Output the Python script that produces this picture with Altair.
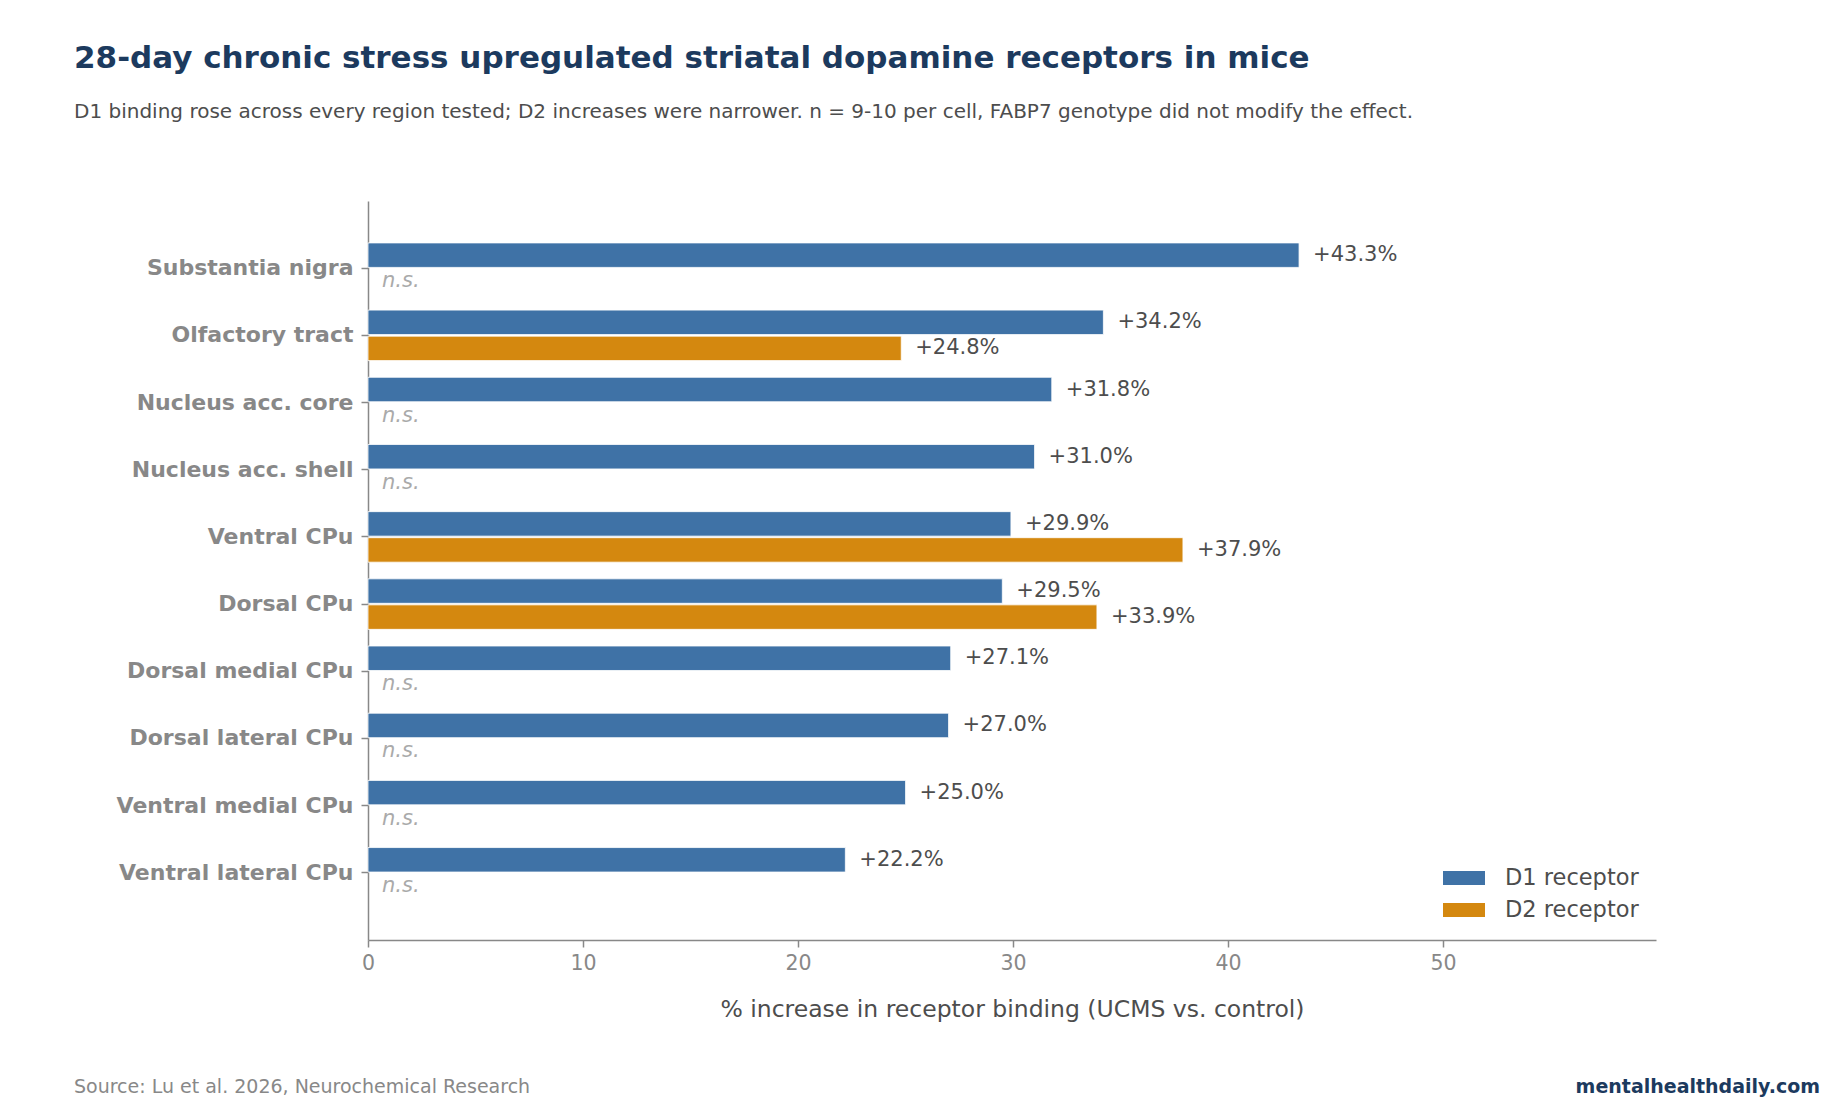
import altair as alt
import pandas as pd

# Regions, top to bottom
regions = [
    "Substantia nigra",
    "Olfactory tract",
    "Nucleus acc. core",
    "Nucleus acc. shell",
    "Ventral CPu",
    "Dorsal CPu",
    "Dorsal medial CPu",
    "Dorsal lateral CPu",
    "Ventral medial CPu",
    "Ventral lateral CPu",
]
# % increase in binding, UCMS vs. control (None = not significant)
d1_increase = [43.3, 34.2, 31.8, 31.0, 29.9, 29.5, 27.1, 27.0, 25.0, 22.2]
d2_increase = [None, 24.8, None, None, 37.9, 33.9, None, None, None, None]

receptors = ["D1 receptor", "D2 receptor"]
receptor_colors = ["#3f72a6", "#d4880f"]
x_ticks = [0, 10, 20, 30, 40, 50]

title_text = "28-day chronic stress upregulated striatal dopamine receptors in mice"
subtitle_text = ("D1 binding rose across every region tested; D2 increases were narrower. "
                 "n = 9-10 per cell, FABP7 genotype did not modify the effect.")
source_text = "Source: Lu et al. 2026, Neurochemical Research"
site_text = "mentalhealthdaily.com"

FONT = "DejaVu Sans"
W, H = 1288, 739

rows = []
for region, v1, v2 in zip(regions, d1_increase, d2_increase):
    for rec, v in zip(receptors, (v1, v2)):
        rows.append({
            "region": region,
            "receptor": rec,
            "value": v,
            "label": f"+{v:.1f}%" if v is not None else "n.s.",
        })
df = pd.DataFrame(rows)

x_scale = alt.Scale(domain=[0, 59.9], nice=False, zero=True)
y_enc = alt.Y(
    "region:N",
    sort=regions,
    scale=alt.Scale(paddingInner=0, paddingOuter=0.5),
    axis=alt.Axis(
        title=None,
        labelFont=FONT,
        labelFontSize=22,
        labelFontWeight="bold",
        labelColor="#888888",
        labelPadding=8,
        labelLimit=0,
        tickSize=7,
        tickColor="#888888",
        tickWidth=1.5,
        domainColor="#888888",
        domainWidth=1.5,
        grid=False,
    ),
)
yoff_enc = alt.YOffset(
    "receptor:N",
    sort=receptors,
    scale=alt.Scale(paddingInner=0.06, paddingOuter=0.32),
)

base = alt.Chart(df).encode(y=y_enc, yOffset=yoff_enc)

bars = base.transform_filter("isValid(datum.value)").mark_bar(
    stroke="white", strokeWidth=0.8
).encode(
    x=alt.X(
        "value:Q",
        scale=x_scale,
        axis=alt.Axis(
            title="% increase in receptor binding (UCMS vs. control)",
            titleFont=FONT,
            titleFontSize=23.5,
            titleFontWeight="normal",
            titleColor="#4d4d4d",
            titlePadding=24,
            values=x_ticks,
            labelFont=FONT,
            labelFontSize=20.5,
            labelColor="#888888",
            labelPadding=6,
            labelFlush=False,
            tickSize=7,
            tickColor="#888888",
            tickWidth=1.5,
            domainColor="#888888",
            domainWidth=1.5,
            grid=False,
        ),
    ),
    color=alt.Color(
        "receptor:N",
        sort=receptors,
        scale=alt.Scale(domain=receptors, range=receptor_colors),
        legend=alt.Legend(
            title=None,
            orient="none",
            legendX=1075,
            legendY=669,
            padding=0,
            symbolType="M-1,-0.33H1V0.33H-1Z",
            symbolSize=1764,
            symbolStrokeWidth=0,
            clipHeight=16,
            rowPadding=9,
            labelFont=FONT,
            labelFontSize=22.5,
            labelColor="#4d4d4d",
            labelOffset=20,
        ),
    ),
)

value_labels = base.transform_filter("isValid(datum.value)").mark_text(
    align="left", baseline="middle", dx=14, font=FONT, fontSize=21, color="#4d4d4d"
).encode(x=alt.X("value:Q", scale=x_scale), text="label:N")

ns_labels = base.transform_filter("!isValid(datum.value)").mark_text(
    align="left", baseline="middle", dx=14, font=FONT, fontSize=21,
    fontStyle="italic", color="#aaaaaa"
).encode(x=alt.datum(0, scale=x_scale), text="label:N")


def caption(text, x, y, size, color, weight="normal", align="left"):
    return alt.Chart(pd.DataFrame({"t": [text]})).mark_text(
        align=align, baseline="alphabetic", font=FONT, fontSize=size,
        fontWeight=weight, color=color
    ).encode(x=alt.value(x), y=alt.value(y), text="t:N")


title = caption(title_text, -294, -133, 31, "#1c3a5e", weight="bold")
subtitle = caption(subtitle_text, -294, -83, 20, "#4d4d4d")
source = caption(source_text, -294, 892, 19, "#888888")
site = caption(site_text, 1452, 892, 19, "#1c3a5e", weight="bold", align="right")

chart = alt.layer(
    bars, value_labels, ns_labels, title, subtitle, source, site
).properties(
    width=W,
    height=H,
    autosize=alt.AutoSizeParams(type="none"),
    padding={"left": 368, "top": 201, "right": 184, "bottom": 180},
    background="white",
).configure_view(stroke=None)

chart.save("out.html", embed_options={"renderer": "svg", "actions": False})
